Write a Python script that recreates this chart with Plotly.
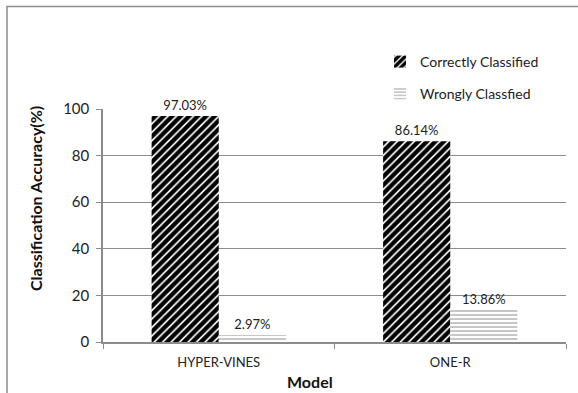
import plotly.graph_objects as go

models = ["HYPER-VINES", "ONE-R"]
correct = [97.03, 86.14]
wrong = [2.97, 13.86]
series_names = ["Correctly Classified", "Wrongly Classfied"]
x_title = "Model"
y_title = "Classification Accuracy(%)"

FONT = "Lato"
GRAY = "#8c8c8c"

fig = go.Figure()
fig.add_trace(go.Bar(
    x=models, y=correct, name=series_names[0], legendgroup="a",
    text=[f"{v:.2f}%" for v in correct], textposition="outside",
    textfont=dict(family=FONT, size=13, color="#222"),
    cliponaxis=False,
    marker=dict(color="white", line=dict(width=0),
                pattern=dict(shape="/", fgcolor="black", bgcolor="white",
                             fgopacity=1, size=6, solidity=0.72)),
))
fig.add_trace(go.Bar(
    x=models, y=wrong, name=series_names[1], legendgroup="b",
    text=[f"{v:.2f}%" for v in wrong], textposition="outside",
    textfont=dict(family=FONT, size=13, color="#222"),
    cliponaxis=False,
    marker=dict(color="white", line=dict(width=0),
                pattern=dict(shape="-", fgcolor="#8f8f8f", bgcolor="white",
                             size=4, solidity=0.5)),
))

# outer chart frame
fig.add_shape(type="rect", xref="paper", yref="paper",
              x0=(7 - 103) / 463, x1=1.2, y0=-0.5, y1=(342 - 6.5) / 233,
              line=dict(color=GRAY, width=1.5), fillcolor="rgba(0,0,0,0)")

# axis titles
fig.add_annotation(text=f"<b>{x_title}</b>", xref="paper", yref="paper",
                   x=(310 - 103) / 463, y=-(381 - 342) / 233, showarrow=False,
                   xanchor="center", yanchor="middle",
                   font=dict(family=FONT, size=16, color="#111"))
fig.add_annotation(text=f"<b>{y_title}</b>", xref="paper", yref="paper",
                   x=-(103 - 35) / 463, y=(342 - 199) / 233, showarrow=False,
                   textangle=-90, xanchor="center", yanchor="middle",
                   font=dict(family=FONT, size=16, color="#111"))

fig.update_layout(
    width=578, height=393,
    margin=dict(l=103, r=12, t=109, b=51),
    paper_bgcolor="white", plot_bgcolor="white",
    barmode="group", bargap=0.42, bargroupgap=0,
    font=dict(family=FONT, size=13, color="#222"),
    showlegend=True,
    legend=dict(x=(380 - 103) / 463, y=(342 - 46) / 233, xanchor="left", yanchor="top",
                font=dict(family=FONT, size=14, color="#222"),
                tracegroupgap=11, traceorder="grouped",
                itemwidth=30, bgcolor="rgba(0,0,0,0)"),
    xaxis=dict(
        automargin=False,
        showline=True, linecolor=GRAY, linewidth=1.5,
        ticks="outside", ticklen=5, tickcolor=GRAY, tickson="boundaries",
        ticklabelstandoff=8,
        tickfont=dict(family=FONT, size=13, color="#222"),
    ),
    yaxis=dict(
        automargin=False,
        range=[0, 100], dtick=20,
        showline=True, linecolor=GRAY, linewidth=1.5,
        ticks="outside", ticklen=5, tickcolor=GRAY,
        showgrid=True, gridcolor=GRAY, gridwidth=1.2,
        zeroline=False,
        ticklabelstandoff=4,
        tickfont=dict(family=FONT, size=15, color="#222"),
    ),
)

fig.write_html("out.html")
